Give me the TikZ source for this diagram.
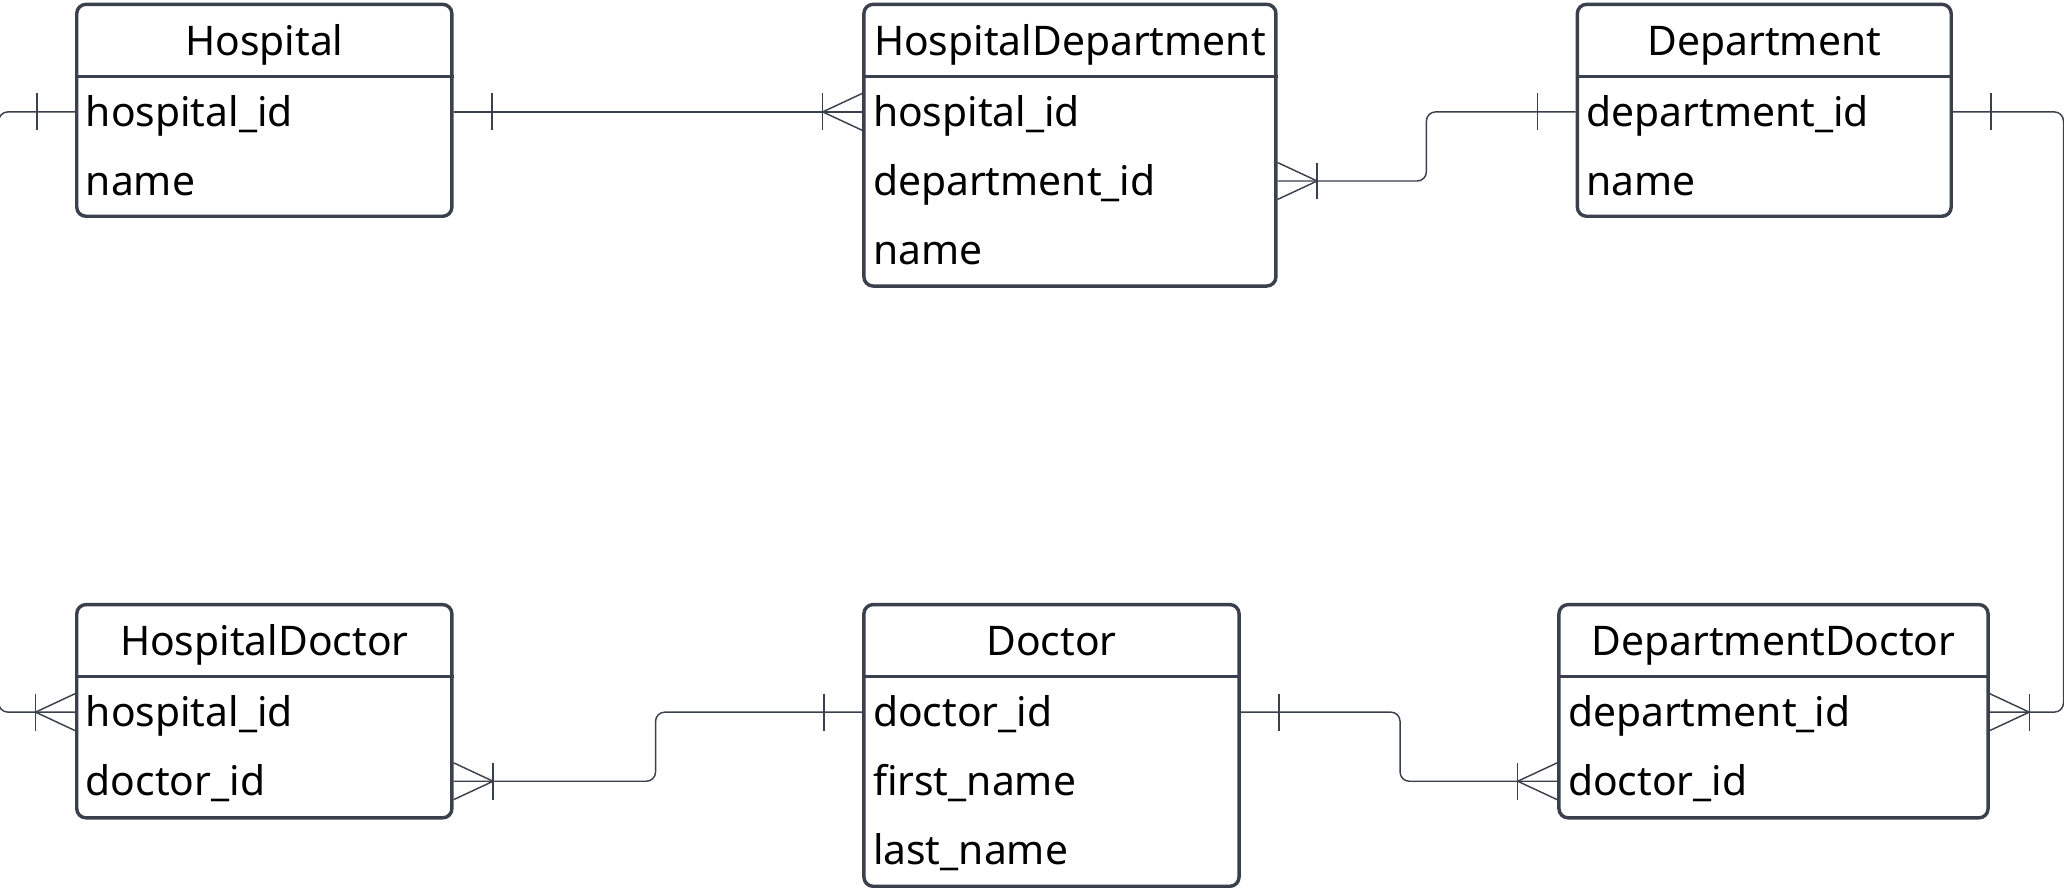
\documentclass[tikz,border=0pt]{standalone}
\usepackage{fontspec}
\setmainfont{Noto Sans}
\usetikzlibrary{calc}

\definecolor{edge}{RGB}{58,64,76}

% cardinality marks, #1 = point on the box edge, #2 = side (1 right, -1 left)
\newcommand{\onemark}[2]{%
  \draw[link] ($(#1)+(#2*29,-14)$) -- ($(#1)+(#2*29,14)$);}
\newcommand{\manymark}[2]{%
  \draw[link] ($(#1)+(0,-14)$) -- ($(#1)+(#2*30,0)$) -- ($(#1)+(0,14)$);
  \draw[link] ($(#1)+(#2*30,-14)$) -- ($(#1)+(#2*30,14)$);}

\begin{document}
\begin{tikzpicture}[x=1pt, y=-1pt,
    entity/.style={draw=edge, line width=2.6pt, rounded corners=7pt, fill=white, anchor=north west, inner sep=0pt},
    rule/.style={draw=edge, line width=2.6pt},
    title/.style={anchor=base, font=\fontsize{31pt}{37pt}\selectfont},
    field/.style={anchor=west, inner xsep=0pt, text height=30pt, text depth=8pt, font=\fontsize{31pt}{37pt}\selectfont},
    link/.style={draw=edge, line width=1.1pt}]
  \useasboundingbox (0,0) rectangle (1568,674);

  % Tables
  \node[entity, minimum width=285pt, minimum height=161pt] (hosp) at (57,2) {};
  \node[title] (hosp-t) at ($(hosp.north)+(0,40)$) {Hospital};
  \draw[rule] ($(hosp.north west)+(0,56)$) -- ($(hosp.north east)+(0,56)$);
  \foreach \n/\f in {1/hospital\_id, 2/name}
    \node[field] (hosp-\n) at ($(hosp.north west)+(8,30.5+52.5*\n)$) {\f};

  \node[entity, minimum width=313pt, minimum height=214pt] (hdep) at (655,2) {};
  \node[title] (hdep-t) at ($(hdep.north)+(0,40)$) {HospitalDepartment};
  \draw[rule] ($(hdep.north west)+(0,56)$) -- ($(hdep.north east)+(0,56)$);
  \foreach \n/\f in {1/hospital\_id, 2/department\_id, 3/name}
    \node[field] (hdep-\n) at ($(hdep.north west)+(8,30.5+52.5*\n)$) {\f};

  \node[entity, minimum width=284pt, minimum height=161pt] (dep) at (1197,2) {};
  \node[title] (dep-t) at ($(dep.north)+(0,40)$) {Department};
  \draw[rule] ($(dep.north west)+(0,56)$) -- ($(dep.north east)+(0,56)$);
  \foreach \n/\f in {1/department\_id, 2/name}
    \node[field] (dep-\n) at ($(dep.north west)+(8,30.5+52.5*\n)$) {\f};

  \node[entity, minimum width=285pt, minimum height=162pt] (hdoc) at (57,458) {};
  \node[title] (hdoc-t) at ($(hdoc.north)+(0,40)$) {HospitalDoctor};
  \draw[rule] ($(hdoc.north west)+(0,56)$) -- ($(hdoc.north east)+(0,56)$);
  \foreach \n/\f in {1/hospital\_id, 2/doctor\_id}
    \node[field] (hdoc-\n) at ($(hdoc.north west)+(8,30.5+52.5*\n)$) {\f};

  \node[entity, minimum width=285pt, minimum height=214pt] (doc) at (655,458) {};
  \node[title] (doc-t) at ($(doc.north)+(0,40)$) {Doctor};
  \draw[rule] ($(doc.north west)+(0,56)$) -- ($(doc.north east)+(0,56)$);
  \foreach \n/\f in {1/doctor\_id, 2/first\_name, 3/last\_name}
    \node[field] (doc-\n) at ($(doc.north west)+(8,30.5+52.5*\n)$) {\f};

  \node[entity, minimum width=326pt, minimum height=162pt] (ddoc) at (1183,458) {};
  \node[title] (ddoc-t) at ($(ddoc.north)+(0,40)$) {DepartmentDoctor};
  \draw[rule] ($(ddoc.north west)+(0,56)$) -- ($(ddoc.north east)+(0,56)$);
  \foreach \n/\f in {1/department\_id, 2/doctor\_id}
    \node[field] (ddoc-\n) at ($(ddoc.north west)+(8,30.5+52.5*\n)$) {\f};

  % Relations
  \draw[link, rounded corners=7pt] (hosp.west |- hosp-1) -- ++(-58,0) |- (hdoc.west |- hdoc-1);
  \onemark{hosp.west |- hosp-1}{-1}
  \manymark{hdoc.west |- hdoc-1}{-1}

  \draw[link] (hosp.east |- hosp-1) -- (hdep.west |- hdep-1);
  \onemark{hosp.east |- hosp-1}{1}
  \manymark{hdep.west |- hdep-1}{-1}

  \draw[link, rounded corners=7pt] (hdep.east |- hdep-2) -- ++(113,0) |- (dep.west |- dep-1);
  \manymark{hdep.east |- hdep-2}{1}
  \onemark{dep.west |- dep-1}{-1}

  \draw[link, rounded corners=7pt] (dep.east |- dep-1) -- ++(84,0) |- (ddoc.east |- ddoc-1);
  \onemark{dep.east |- dep-1}{1}
  \manymark{ddoc.east |- ddoc-1}{1}

  \draw[link, rounded corners=7pt] (doc.west |- doc-1) -- ++(-157,0) |- (hdoc.east |- hdoc-2);
  \onemark{doc.west |- doc-1}{-1}
  \manymark{hdoc.east |- hdoc-2}{1}

  \draw[link, rounded corners=7pt] (doc.east |- doc-1) -- ++(121,0) |- (ddoc.west |- ddoc-2);
  \onemark{doc.east |- doc-1}{1}
  \manymark{ddoc.west |- ddoc-2}{-1}
\end{tikzpicture}
\end{document}
